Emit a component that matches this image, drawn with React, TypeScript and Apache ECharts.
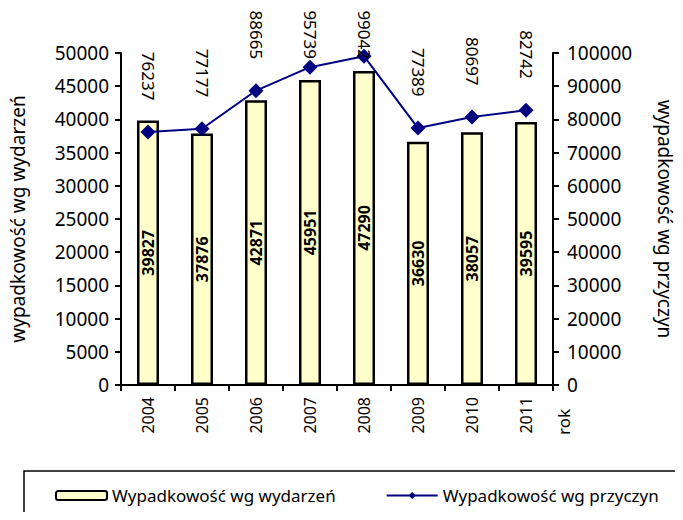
import React, { useEffect, useRef } from "react";
import * as echarts from "echarts";

const years = ["2004", "2005", "2006", "2007", "2008", "2009", "2010", "2011"];
const eventsAccidents = [39827, 37876, 42871, 45951, 47290, 36630, 38057, 39595];
const causeAccidents = [76237, 77177, 88665, 95739, 99042, 77389, 80697, 82742];
const leftTicks = { min: 0, max: 50000, interval: 5000 };
const rightTicks = { min: 0, max: 100000, interval: 10000 };

const FONT = "Noto Sans";
const LABEL_DIST = 24;
const LABEL_LEN = 50;
const SYMBOL = 15;

export default function App() {
  const ref = useRef<HTMLDivElement>(null);
  useEffect(() => {
    if (!ref.current) return;
    const chart = echarts.init(ref.current, undefined, { renderer: "svg" });
    const axisLine = { show: true, lineStyle: { color: "#000", width: 2 } };
    const tick = { show: true, length: 6, lineStyle: { color: "#000", width: 2 } };
    const plain = (v: number) => String(v);
    chart.setOption({
      animation: false,
      backgroundColor: "#fff",
      textStyle: { fontFamily: FONT, color: "#000" },
      grid: { left: 120, right: 130, top: 53, bottom: 135 },
      legend: {
        left: 50,
        top: 482,
        itemWidth: 51,
        itemHeight: 9,
        itemGap: 50,
        textStyle: { fontFamily: FONT, fontSize: 17, color: "#000" },
        data: [
          { name: "Wypadkowość wg wydarzeń" },
          { name: "Wypadkowość wg przyczyn" },
        ],
      },
      graphic: [
        {
          type: "rect",
          shape: { x: 24, y: 471, width: 700, height: 100 },
          style: { fill: "none", stroke: "#000", lineWidth: 1.5 },
          z: -1,
        },
        {
          type: "text",
          x: 563,
          y: 409,
          rotation: Math.PI / 2,
          style: {
            text: "rok",
            fontFamily: FONT,
            fontSize: 17,
            fill: "#000",
            align: "right",
            verticalAlign: "middle",
          },
        },
      ],
      xAxis: {
        type: "category",
        data: years,
        axisLine,
        axisTick: tick,
        axisLabel: {
          rotate: 90,
          fontFamily: FONT,
          fontSize: 16,
          color: "#000",
          margin: 12,
        },
      },
      yAxis: [
        {
          type: "value",
          ...leftTicks,
          name: "wypadkowość wg wydarzeń",
          nameLocation: "middle",
          nameGap: 94,
          nameRotate: 90,
          nameTextStyle: { fontFamily: FONT, fontSize: 19, color: "#000" },
          axisLine,
          axisTick: tick,
          axisLabel: { fontFamily: FONT, fontSize: 19, color: "#000", margin: 12, formatter: plain },
          splitLine: { show: false },
        },
        {
          type: "value",
          ...rightTicks,
          position: "right",
          name: "wypadkowość wg przyczyn",
          nameLocation: "middle",
          nameGap: 102,
          nameRotate: -90,
          nameTextStyle: { fontFamily: FONT, fontSize: 19, color: "#000" },
          axisLine,
          axisTick: tick,
          axisLabel: { fontFamily: FONT, fontSize: 19, color: "#000", margin: 14, formatter: plain },
          splitLine: { show: false },
        },
      ],
      series: [
        {
          name: "Wypadkowość wg wydarzeń",
          type: "bar",
          yAxisIndex: 0,
          data: eventsAccidents,
          barWidth: 22,
          itemStyle: { color: "#FFFFCC", borderColor: "#000", borderWidth: 2.5 },
          label: {
            show: true,
            position: "inside",
            rotate: 90,
            fontFamily: FONT,
            fontSize: 16,
            fontWeight: "bold",
            color: "#000",
          },
        },
        {
          name: "Wypadkowość wg przyczyn",
          type: "line",
          yAxisIndex: 1,
          data: causeAccidents,
          symbol: "diamond",
          symbolSize: SYMBOL,
          lineStyle: { color: "#000080", width: 2 },
          itemStyle: { color: "#000080" },
          z: 3,
          label: {
            show: true,
            position: "top",
            distance: LABEL_DIST,
            rotate: -90,
            align: "right",
            verticalAlign: "middle",
            fontFamily: FONT,
            fontSize: 17,
            color: "#000",
          },
        },
      ],
    });
    // keep line labels inside the top of the picture, as the reference does
    const lineData = causeAccidents.map((v, i) => {
      const p = chart.convertToPixel({ seriesIndex: 1 }, [i, v]) as number[];
      const maxDist = p[1] - SYMBOL / 2 - 9 - LABEL_LEN;
      return { value: v, label: { distance: Math.min(LABEL_DIST, maxDist) } };
    });
    chart.setOption({ series: [{}, { data: lineData }] });
    return () => chart.dispose();
  }, []);
  return <div ref={ref} style={{ width: 683, height: 520, margin: -8 }} />;
}
